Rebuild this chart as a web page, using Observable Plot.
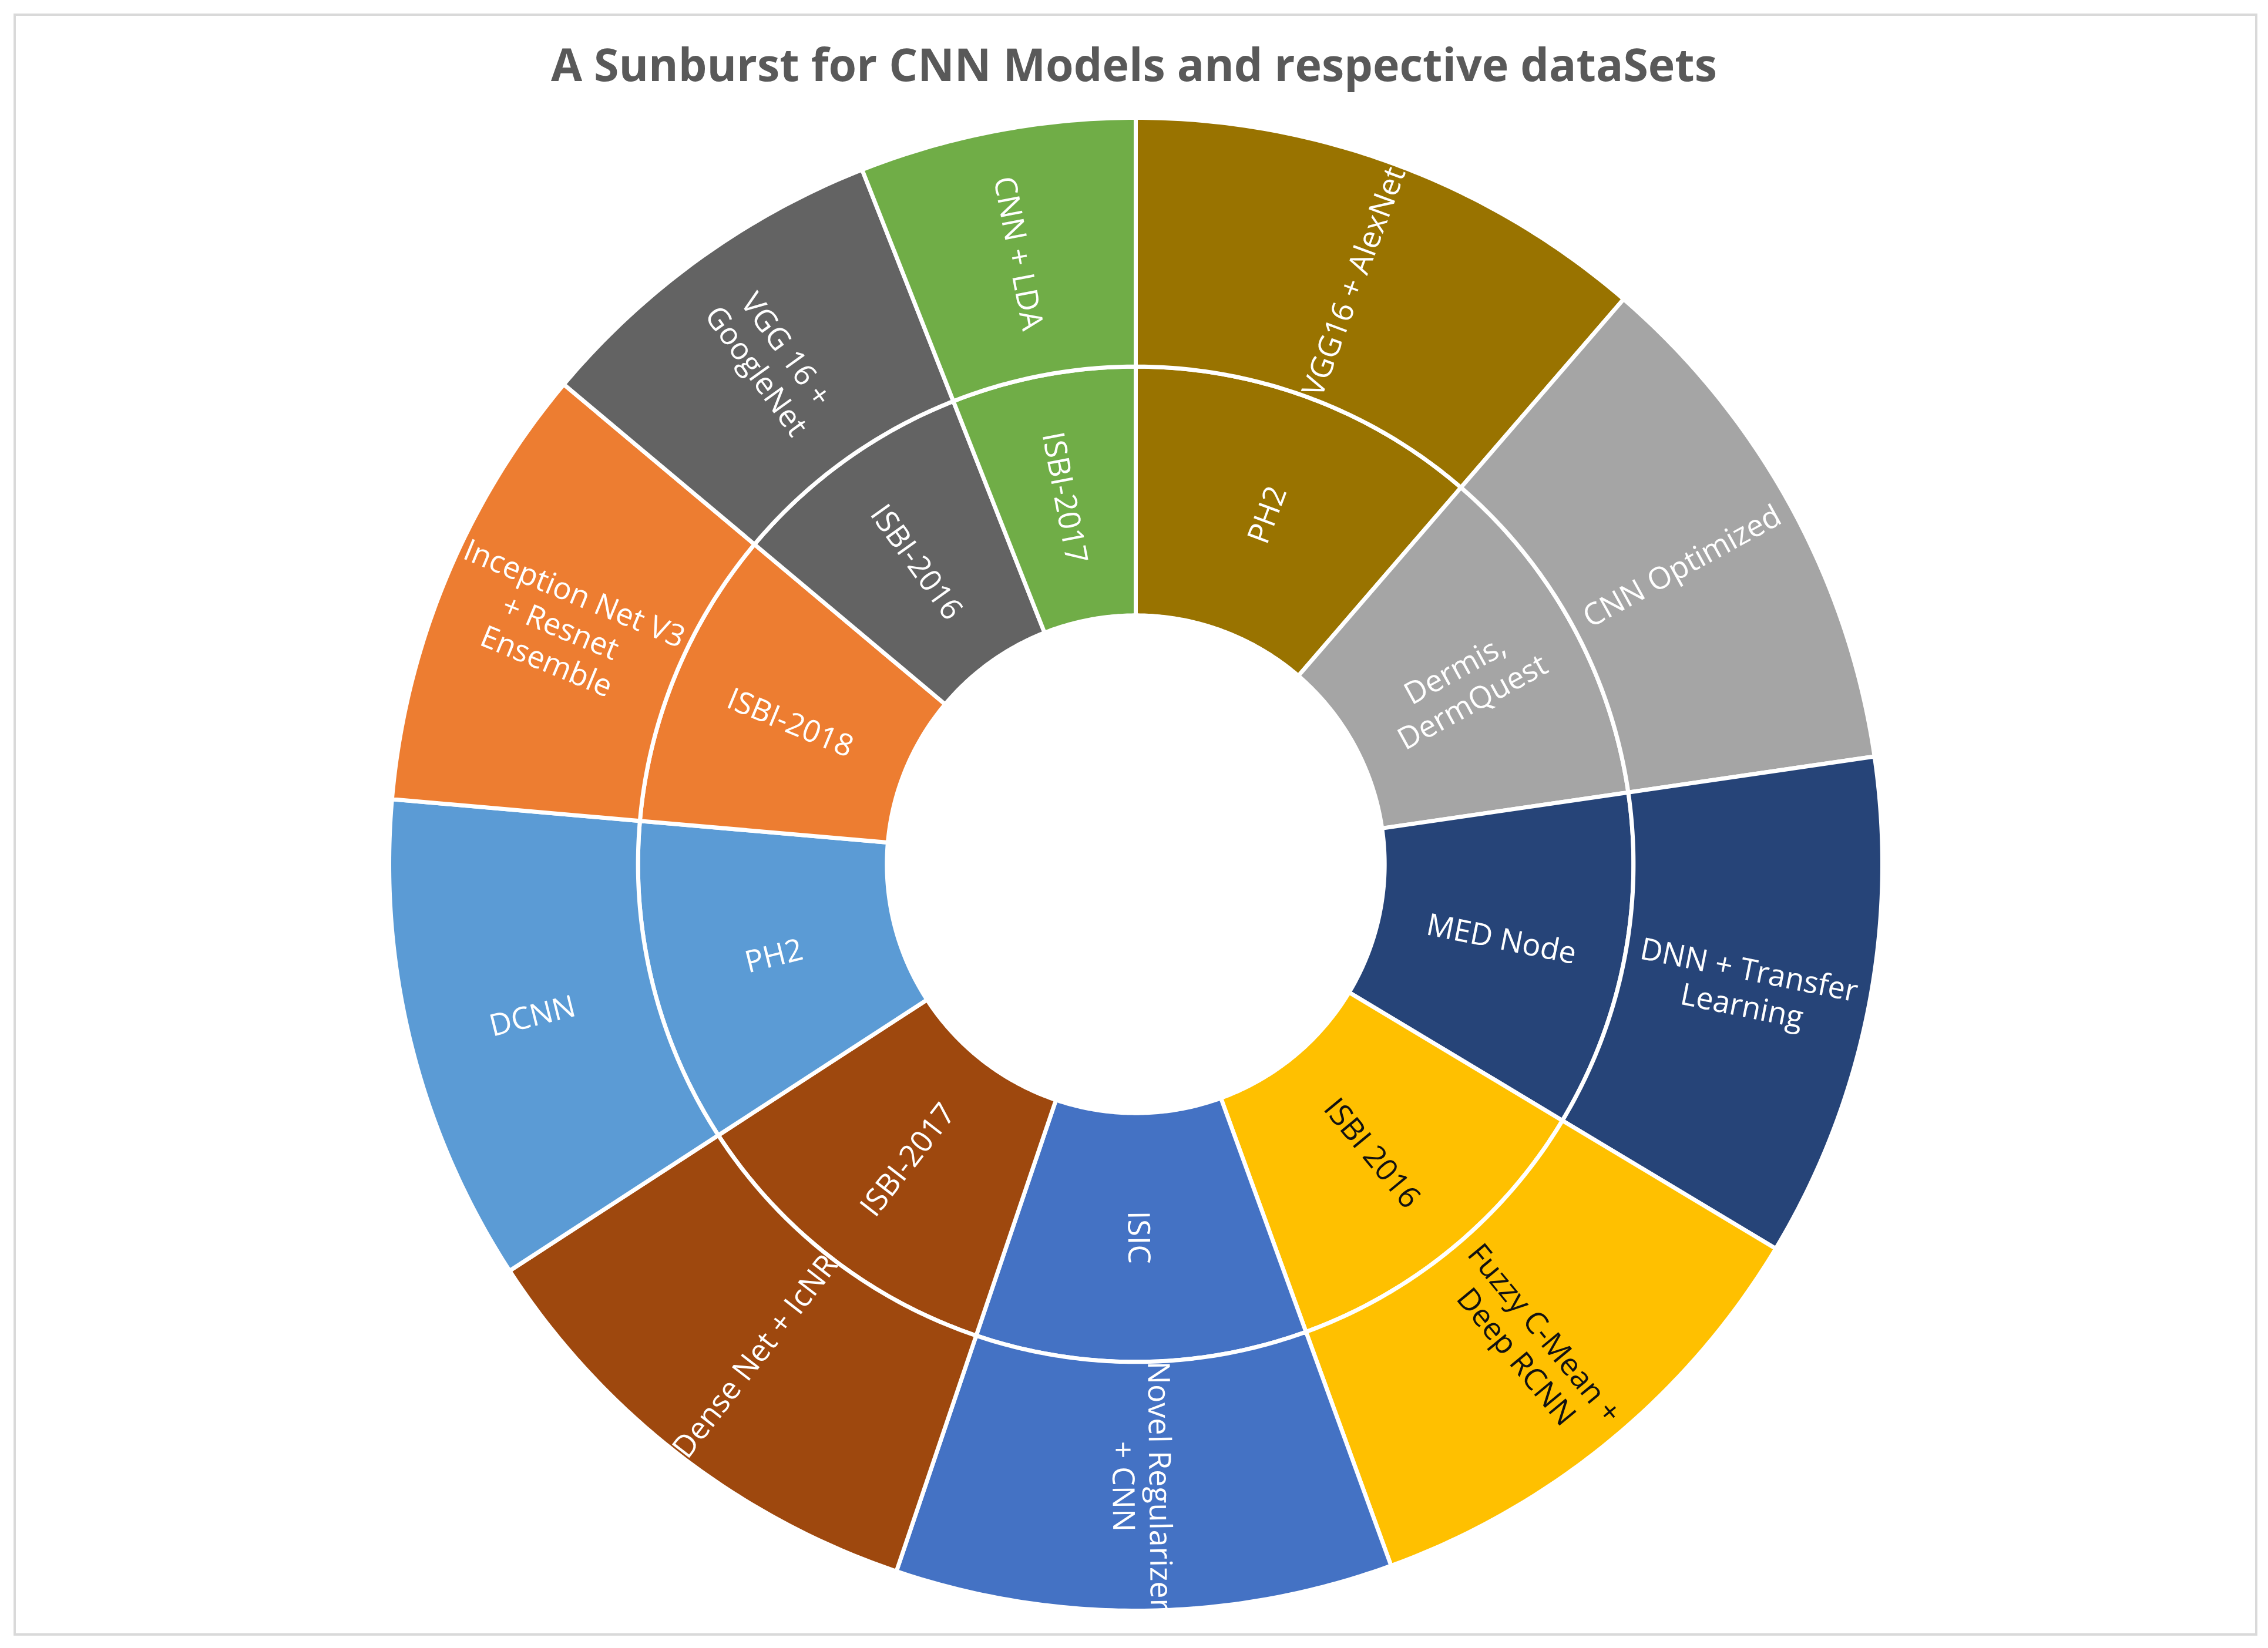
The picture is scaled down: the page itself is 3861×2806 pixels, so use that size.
<!DOCTYPE html>
<html>
<head>
<meta charset="utf-8">
<script src="https://cdn.jsdelivr.net/npm/d3@7"></script>
<script src="https://cdn.jsdelivr.net/npm/@observablehq/plot@0.6"></script>
<style>
  html, body { margin: 0; padding: 0; background: #ffffff; }
  #frame { position: absolute; left: 23px; top: 23px; width: 3820px; height: 2762px; border: 4px solid #d9d9d9; box-sizing: border-box; }
  #title { position: absolute; left: 0; top: 70px; width: 3861px; text-align: center; font-family: "Open Sans", sans-serif; font-weight: 700; font-size: 77px; line-height: 1; color: #595959; }
  #chart { position: absolute; left: 0; top: 175px; }
</style>
</head>
<body>
<div id="frame"></div>
<div id="title">A Sunburst for CNN Models and respective dataSets</div>
<div id="chart"></div>
<script>
// ---- data ----
const datasets = ["PH2", "Dermis,\nDermQuest", "MED Node", "ISBI 2016", "ISIC", "ISBI-2017", "PH2", "ISBI-2018", "ISBI-2016", "ISBI-2017"];
const models = ["VGG16 + AlexNet", "CNN Optimized", "DNN + Transfer\nLearning", "Fuzzy C-Mean +\nDeep RCNN", "Novel Regularizer\n+ CNN", "Dense Net + IcNR", "DCNN", "Inception Net V3\n+ Resnet\nEnsemble", "VGG 16 +\nGoogleNet", "CNN + LDA"];
const values = [40.8, 40.9, 39.3, 39.0, 38.7, 38.3, 38.0, 35.0, 28.5, 21.5];
const colors = ["#997300", "#A5A5A5", "#264478", "#FFC000", "#4472C4", "#9E480E", "#5B9BD5", "#ED7D31", "#636363", "#70AD47"];
const textColors = ["#ffffff", "#ffffff", "#ffffff", "#111111", "#ffffff", "#ffffff", "#ffffff", "#ffffff", "#ffffff", "#ffffff"];

// ---- layout ----
const W = 3861, H = 2600;       // svg size
const CX = 1933, CY = 1296;     // centre inside svg (px)
const R = 1271;                 // outer radius (px) = 3 ring units
const k = R / 3;

const total = d3.sum(values);
let acc = 0;
const arcs = values.map((v, i) => { const a0 = acc / total * 360; acc += v; return {i, a0, a1: acc / total * 360}; });
const rings = [{r0: 1, r1: 2, labels: datasets}, {r0: 2, r1: 3, labels: models}];
const rad = a => a * Math.PI / 180;

const pts = [], labs = [];
rings.forEach((ring, j) => arcs.forEach(({i, a0, a1}) => {
  const id = j + "-" + i;
  const n = Math.max(2, Math.ceil((a1 - a0) / 0.5));
  const poly = [];
  for (let s = 0; s <= n; s++) poly.push([ring.r1, a0 + (a1 - a0) * s / n]);
  for (let s = n; s >= 0; s--) poly.push([ring.r0, a0 + (a1 - a0) * s / n]);
  poly.push(poly[0]);
  for (const [r, a] of poly) pts.push({id, color: colors[i], x: r * Math.sin(rad(a)), y: r * Math.cos(rad(a))});
  const am = (a0 + a1) / 2, rm = (ring.r0 + ring.r1) / 2;
  labs.push({text: ring.labels[i], x: rm * Math.sin(rad(am)), y: rm * Math.cos(rad(am)),
             rotate: am < 180 ? am - 90 : am - 270, fill: textColors[i]});
}));

const chart = Plot.plot({
  width: W, height: H, margin: 0,
  style: {fontFamily: "Open Sans", background: "transparent"},
  x: {domain: [-CX / k, (W - CX) / k], axis: null},
  y: {domain: [-(H - CY) / k, CY / k], axis: null},
  color: {type: "identity"},
  marks: [
    Plot.line(pts, {x: "x", y: "y", z: "id", fill: "color", stroke: "white", strokeWidth: 7, curve: "linear"}),
    Plot.text(labs, {x: "x", y: "y", text: "text", rotate: "rotate", fill: "fill", fontSize: 52, lineHeight: 1.2, fontFamily: "Open Sans"})
  ]
});
document.getElementById("chart").appendChild(chart);
</script>
</body>
</html>
